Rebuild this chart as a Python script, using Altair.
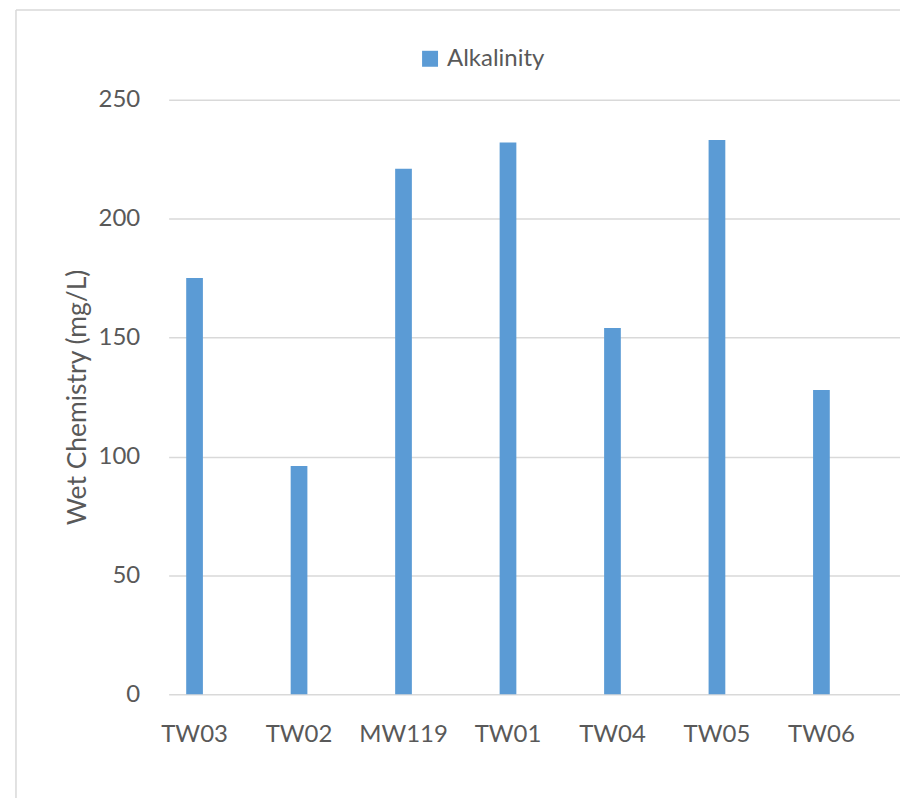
import altair as alt
import pandas as pd

wells = ["TW03", "TW02", "MW119", "TW01", "TW04", "TW05", "TW06"]
alkalinity = [175, 96, 221, 232, 154, 233, 128]
series_name = "Alkalinity"

df = pd.DataFrame({"well": wells, "value": alkalinity, "series": [series_name] * len(wells)})

FONT = "Lato"
TXT = "#595959"
FRAME = "#D9D9D9"

bars = alt.Chart(df).mark_bar(color="#5B9BD5").encode(
    x=alt.X("well:N", sort=wells,
            scale=alt.Scale(paddingInner=0.84, paddingOuter=0.42, align=0.2),
            axis=alt.Axis(title=None, labelAngle=0, labelFont=FONT, labelFontSize=24,
                          labelColor=TXT, ticks=False, domain=False, labelPadding=28,
                          grid=False)),
    y=alt.Y("value:Q", scale=alt.Scale(domain=[0, 250], nice=False),
            axis=alt.Axis(title="Wet Chemistry (mg/L)", values=[0, 50, 100, 150, 200, 250],
                          labelFont=FONT, labelFontSize=24, labelColor=TXT,
                          titleFont=FONT, titleFontSize=26.5, titleColor=TXT,
                          titleFontWeight="normal", titlePadding=7,
                          ticks=False, domain=False, labelPadding=29,
                          grid=True, gridColor="#D9D9D9", gridWidth=1.5)),
    color=alt.Color("series:N", scale=alt.Scale(range=["#5B9BD5"]),
                    legend=alt.Legend(title=None, orient="none", legendX=250, legendY=-53,
                                      symbolType="square", symbolSize=256,
                                      symbolStrokeWidth=0, labelFont=FONT,
                                      labelFontSize=24, labelColor=TXT, labelOffset=5)),
)

one = pd.DataFrame({"k": [0]})
frame_left = alt.Chart(one).mark_rule(color=FRAME, strokeWidth=1.5).encode(
    x=alt.value(-153), y=alt.value(-90), y2=alt.value(800),
)
frame_top = alt.Chart(one).mark_rule(color=FRAME, strokeWidth=1.5).encode(
    x=alt.value(-153), x2=alt.value(745), y=alt.value(-90),
)

chart = alt.layer(frame_left, frame_top, bars).properties(
    width=733, height=596,
    autosize=alt.AutoSizeParams(type="none"),
    padding={"left": 161, "top": 91, "right": 0, "bottom": 103},
).configure(
    background="white",
    view=alt.ViewConfig(stroke="transparent", strokeWidth=0),
)

chart.save("out.html", embed_options={"renderer": "svg", "actions": False})
